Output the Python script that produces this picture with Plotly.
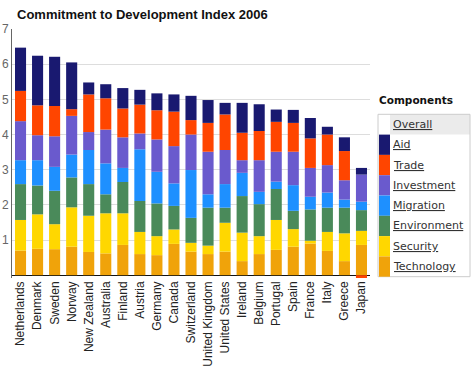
import plotly.graph_objects as go

countries = ["Netherlands", "Denmark", "Sweden", "Norway", "New Zealand", "Australia",
             "Finland", "Austria", "Germany", "Canada", "Switzerland", "United Kingdom",
             "United States", "Ireland", "Belgium", "Portugal", "Spain", "France",
             "Italy", "Greece", "Japan"]

technology = [0.70, 0.75, 0.74, 0.81, 0.66, 0.62, 0.86, 0.60, 0.57, 0.89, 0.67, 0.60,
              0.67, 0.40, 0.60, 0.72, 0.81, 0.90, 0.69, 0.40, 0.86]
security = [0.87, 0.98, 0.71, 1.12, 1.03, 1.14, 0.90, 0.63, 0.54, 0.41, 0.25, 0.24,
            0.82, 0.81, 0.51, 0.85, 0.50, 0.08, 0.54, 0.79, 0.40]
environment = [1.02, 0.82, 0.95, 0.85, 0.90, 0.54, 0.89, 0.88, 0.93, 0.67, 0.71, 1.08,
               0.43, 1.04, 0.91, 0.88, 0.52, 0.89, 0.69, 0.73, 0.59]
migration = [0.68, 0.72, 0.68, 0.65, 0.97, 0.88, 0.40, 1.47, 0.90, 0.64, 1.36, 0.38,
             0.67, 0.66, 0.35, 0.21, 0.73, 0.36, 0.43, 0.23, 0.24]
investment = [1.11, 0.71, 0.87, 1.10, 0.51, 0.96, 0.87, 0.45, 0.92, 1.06, 1.01, 1.21,
              0.97, 0.36, 0.90, 0.85, 0.95, 0.82, 0.78, 0.55, 0.77]
trade = [0.86, 0.85, 0.86, 0.19, 1.07, 0.89, 0.82, 0.82, 0.83, 0.98, 0.41, 0.82,
         1.01, 0.78, 0.83, 0.85, 0.82, 0.84, 0.87, 0.83, -0.08]
aid = [1.23, 1.41, 1.40, 1.33, 0.34, 0.40, 0.58, 0.42, 0.48, 0.49, 0.69, 0.65,
       0.33, 0.85, 0.76, 0.35, 0.37, 0.58, 0.22, 0.39, 0.19]

# stacking order bottom -> top
series_names = ["Technology", "Security", "Environment", "Migration", "Investment", "Trade", "Aid"]
series_values = [technology, security, environment, migration, investment, trade, aid]
series_colors = ["#f0a30a", "#ffd700", "#4a8a5a", "#1e90ff", "#6a5acd", "#ff4500", "#191970"]

y_ticks = [1, 2, 3, 4, 5, 6, 7]

W, H = 474, 376
ML, MR, MT, MB = 12, 104, 29, 98
PL, PR, PT, PB = ML, W - MR, MT, H - MB


def px_x(x):
    return (x - PL) / (PR - PL)


def px_y(y):
    return (PB - y) / (PB - PT)


fig = go.Figure()
for name, vals, col in zip(series_names, series_values, series_colors):
    fig.add_trace(go.Bar(x=countries, y=vals, name=name, marker=dict(color=col, line=dict(width=0)),
                         showlegend=False))

shapes = []
annotations = []

# custom legend
box_l, box_r, box_t = 378, 470, 114.3
row_h = 20.3
legend_items = ["Overall"] + series_names[::-1]
legend_cols = [None] + series_colors[::-1]
box_b = box_t + row_h * len(legend_items)

shapes.append(dict(type="rect", xref="paper", yref="paper",
                   x0=px_x(390), x1=px_x(box_r), y0=px_y(box_t), y1=px_y(box_t + row_h),
                   fillcolor="#ebebeb", line=dict(width=0), layer="below"))
shapes.append(dict(type="rect", xref="paper", yref="paper",
                   x0=px_x(box_l), x1=px_x(box_r), y0=px_y(box_t), y1=px_y(box_b),
                   fillcolor="rgba(0,0,0,0)", line=dict(color="#cccccc", width=1)))
for i, (lab, col) in enumerate(zip(legend_items, legend_cols)):
    top = box_t + i * row_h
    if col is not None:
        shapes.append(dict(type="rect", xref="paper", yref="paper",
                           x0=px_x(379), x1=px_x(390), y0=px_y(top), y1=px_y(top + row_h),
                           fillcolor=col, line=dict(width=0)))
    annotations.append(dict(text="<u>" + lab + "</u>", xref="paper", yref="paper",
                            x=px_x(391), y=px_y(top + row_h / 2), xanchor="left", yanchor="middle",
                            showarrow=False, font=dict(family="DejaVu Sans", size=11, color="#333333")))

annotations.append(dict(text="<b>Components</b>", xref="paper", yref="paper",
                        x=px_x(377), y=px_y(100), xanchor="left", yanchor="middle",
                        showarrow=False, font=dict(family="DejaVu Sans", size=10.5, color="#111111")))

fig.update_layout(
    width=W, height=H,
    margin=dict(l=ML, r=MR, t=MT, b=MB, autoexpand=False),
    barmode="relative",
    bargap=0.35,
    plot_bgcolor="white", paper_bgcolor="white",
    title=dict(text="<b>Commitment to Development Index 2006</b>", xref="container", yref="container",
               x=17 / W, y=1 - 14 / H, xanchor="left", yanchor="middle",
               font=dict(family="Liberation Sans", size=13, color="#111111")),
    font=dict(family="Liberation Sans"),
    shapes=shapes,
    annotations=annotations,
)
fig.update_xaxes(tickangle=-90, showline=False, ticks="", showgrid=False, automargin=False,
                 tickfont=dict(family="Liberation Sans", size=12, color="#222222"))
fig.update_yaxes(range=[-0.08, 7], tickvals=y_ticks, showgrid=True, gridcolor="#dddddd",
                 showline=True, linecolor="#666666", linewidth=1, zeroline=True, automargin=False,
                 zerolinecolor="#111111", zerolinewidth=1, ticks="",
                 tickfont=dict(family="Liberation Sans", size=12, color="#666666"))

fig.write_html("out.html", config={"displayModeBar": False},
               post_script="document.body.style.margin='0px';")
